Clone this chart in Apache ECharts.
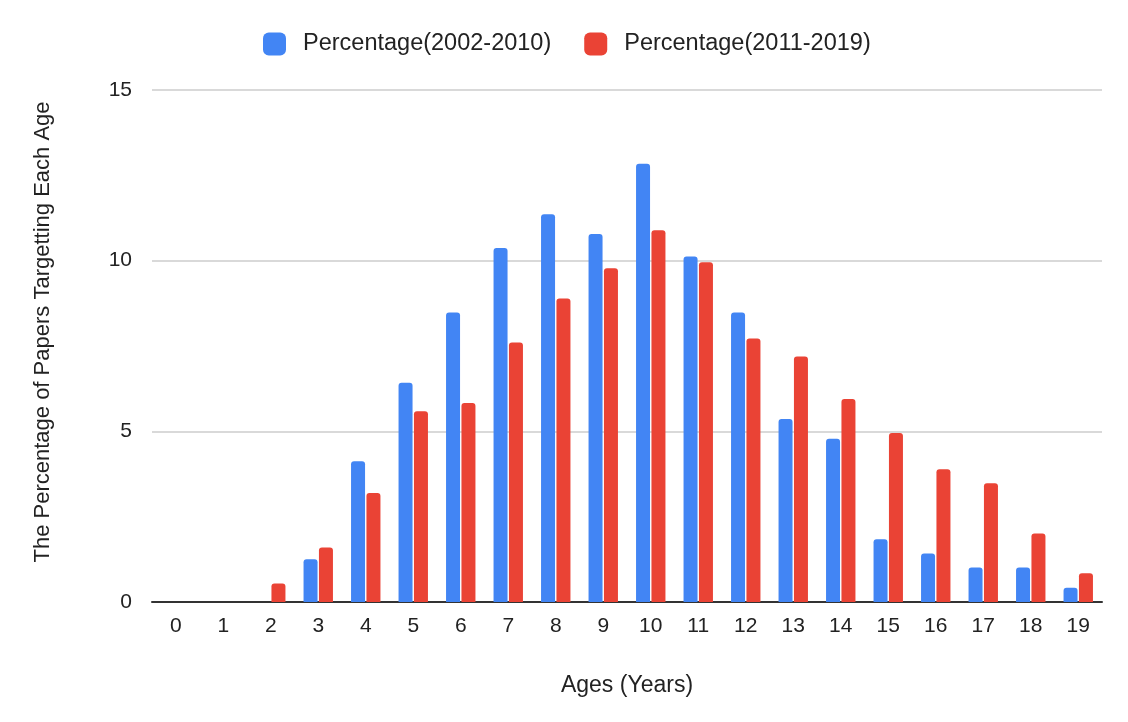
<!DOCTYPE html>
<html>
<head>
<meta charset="utf-8">
<script src="https://cdn.jsdelivr.net/npm/echarts@6/dist/echarts.min.js"></script>
<style>
html,body{margin:0;padding:0;background:#fff;}
#chart{width:1128px;height:722px;}
</style>
</head>
<body>
<div id="chart"></div>
<script>
const ages = ['0','1','2','3','4','5','6','7','8','9','10','11','12','13','14','15','16','17','18','19'];
const pct2002_2010 = [0,0,0,1.25,4.12,6.42,8.48,10.37,11.36,10.78,12.84,10.12,8.48,5.36,4.78,1.84,1.42,1.01,1.01,0.42];
const pct2011_2019 = [0,0,0.54,1.6,3.19,5.59,5.83,7.6,8.89,9.78,10.89,9.95,7.72,7.19,5.95,4.95,3.89,3.48,2.01,0.84];
const seriesNames = ['Percentage(2002-2010)','Percentage(2011-2019)'];
const yTicks = [0,5,10,15];

const font = '"Liberation Sans", Arial, sans-serif';
const chart = echarts.init(document.getElementById('chart'));
chart.setOption({
  animation:false,
  color:['#4285F4','#EA4335'],
  textStyle:{fontFamily:font},
  legend:{
    data:seriesNames,
    left:258, top:27,
    itemWidth:23, itemHeight:23, itemGap:33,
    icon:'roundRect',
    textStyle:{fontFamily:font,fontSize:23.5,color:'#222',padding:[0,0,0,12]}
  },
  grid:{left:152,right:26,top:90,bottom:120},
  xAxis:{
    type:'category',
    data:ages,
    name:'Ages (Years)',
    nameLocation:'middle',
    nameGap:72,
    nameTextStyle:{fontFamily:font,fontSize:23,color:'#222'},
    axisLine:{lineStyle:{color:'#333',width:2}},
    axisTick:{show:false},
    axisLabel:{fontFamily:font,fontSize:21,color:'#222',margin:14}
  },
  yAxis:{
    type:'value',
    min:yTicks[0], max:yTicks[yTicks.length-1], interval:5,
    name:'The Percentage of Papers Targetting Each Age',
    nameLocation:'middle',
    nameGap:98,
    nameTextStyle:{fontFamily:font,fontSize:22,color:'#222',padding:[0,0,0,28]},
    axisLine:{show:false},
    axisTick:{show:false},
    axisLabel:{fontFamily:font,fontSize:21,color:'#222',margin:20},
    splitLine:{lineStyle:{color:'#ccc',width:1.5}}
  },
  series:[
    {name:seriesNames[0],type:'bar',data:pct2002_2010,barWidth:14,barGap:'10%',itemStyle:{borderRadius:[3,3,0,0]}},
    {name:seriesNames[1],type:'bar',data:pct2011_2019,barWidth:14,barGap:'10%',itemStyle:{borderRadius:[3,3,0,0]}}
  ]
});
</script>
</body>
</html>
